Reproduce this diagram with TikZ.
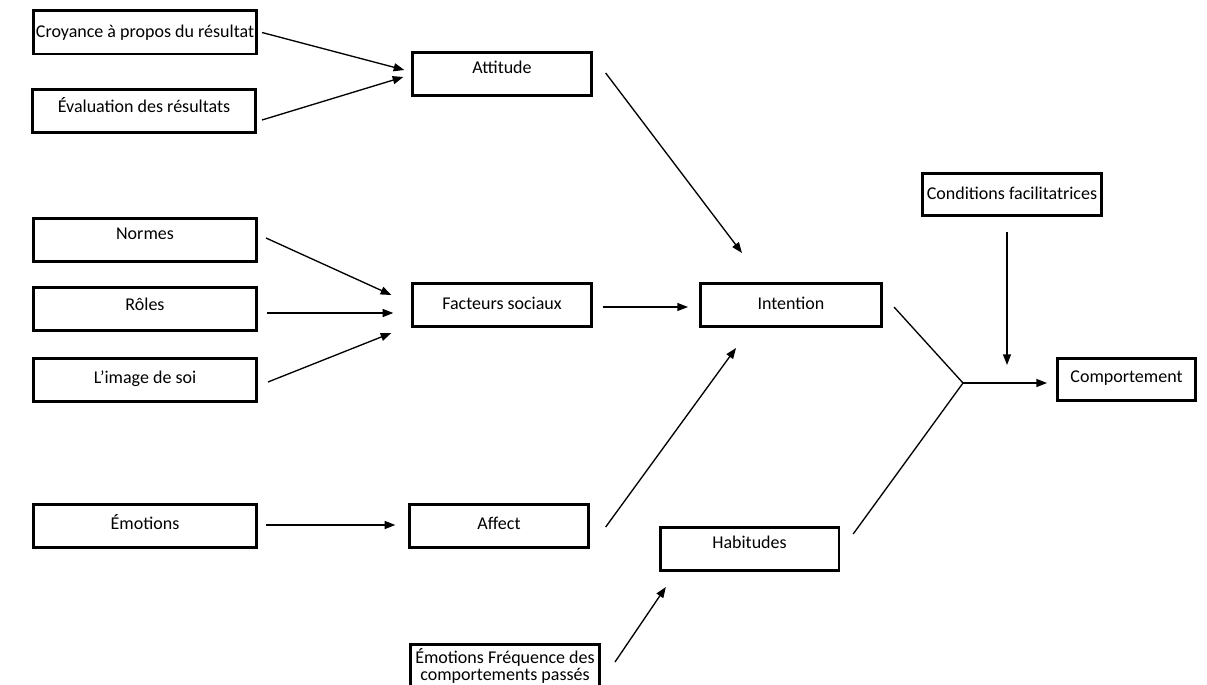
\documentclass[tikz,border=0pt]{standalone}
\usepackage{fontspec}
\setmainfont{Carlito}
\usetikzlibrary{arrows.meta}

\tikzset{
  plainbox/.style={draw, line width=2pt, font=\fontsize{13.5}{12.5}\selectfont,
    minimum width=134pt, minimum height=32.5pt, inner xsep=1pt, inner ysep=0pt},
  box/.style={plainbox, text height=10pt, text depth=3pt},
  wide/.style={minimum width=167.5pt},
  lift/.style={text depth=#1},
  arr/.style={-{Triangle[length=8pt,width=6pt]}, line width=1pt},
  link/.style={line width=1pt}
}

\begin{document}
\begin{tikzpicture}[x=0.75pt,y=-0.75pt]
\useasboundingbox (0,0) rectangle (1207,685);
\clip (0,0) rectangle (1207,685);
\fill[white] (0,0) rectangle (1207,685);

% left column
\node[box,wide] (croyance) at (145,32.5) {Croyance à propos du résultat};
\node[box,wide,lift=7.5pt] (evaluation) at (144,111) {Évaluation des résultats};
\node[box,wide,lift=11pt] (normes) at (145,240) {Normes};
\node[box,wide,lift=7.5pt] (roles) at (145,309) {Rôles};
\node[box,wide,lift=5pt] (image) at (145,380) {L’image de soi};
\node[box,wide,lift=5pt] (emotions) at (145,526) {Émotions};

% middle column
\node[box,lift=11pt] (attitude) at (502,74) {Attitude};
\node[box] (facteurs) at (502,305) {Facteurs sociaux};
\node[box,lift=5pt] (affect) at (499,526) {Affect};
\node[plainbox,anchor=north,minimum width=142pt,inner ysep=0pt,align=center] (frequence) at (505,643)
  {Émotions Fréquence des\\comportements passés};

% right part
\node[box,minimum width=136pt] (intention) at (791,305) {Intention};
\node[box,lift=11pt] (habitudes) at (749.5,549) {Habitudes};
\node[box,minimum height=31.7pt] (conditions) at (1012,194.5) {Conditions facilitatrices};
\node[box,minimum width=103.7pt,minimum height=31.7pt,lift=5pt] (comportement) at (1126.5,379.5) {Comportement};

\coordinate (join) at (963,383);
\coordinate (condtip) at (1007,365);

% connectors
\draw[arr] ([shift={(4,0)}]croyance.east) -- ([shift={(-7,-4)}]attitude.west);
\draw[arr] ([shift={(5,9)}]evaluation.east) -- ([shift={(-8,3)}]attitude.west);
\draw[arr] ([shift={(13,-1)}]attitude.east) -- ([shift={(-49,-29)}]intention.north);
\draw[arr] ([shift={(8,-2)}]normes.east) -- ([shift={(-20,-10)}]facteurs.west);
\draw[arr] ([shift={(9,4)}]roles.east) -- ([shift={(-18,8)}]facteurs.west);
\draw[arr] ([shift={(10,2)}]image.east) -- ([shift={(-20,28)}]facteurs.west);
\draw[arr] ([shift={(10,2)}]facteurs.east) -- ([shift={(-11,2)}]intention.west);
\draw[arr] ([shift={(16,1)}]affect.east) -- ([shift={(-55,20)}]intention.south);
\draw[arr] ([shift={(8,-1)}]emotions.east) -- ([shift={(-13,-1)}]affect.west);
\draw[arr] ([shift={(14,19)}]frequence.north east) -- ([shift={(7,15)}]habitudes.south west);
\draw[link] ([shift={(11,2)}]intention.east) -- (join);
\draw[link] ([shift={(13,-15)}]habitudes.east) -- (join);
\draw[arr] (join) -- ([shift={(-9,3.5)}]comportement.west);
\draw[arr] ([shift={(-5,15)}]conditions.south) -- (condtip);
\end{tikzpicture}
\end{document}
